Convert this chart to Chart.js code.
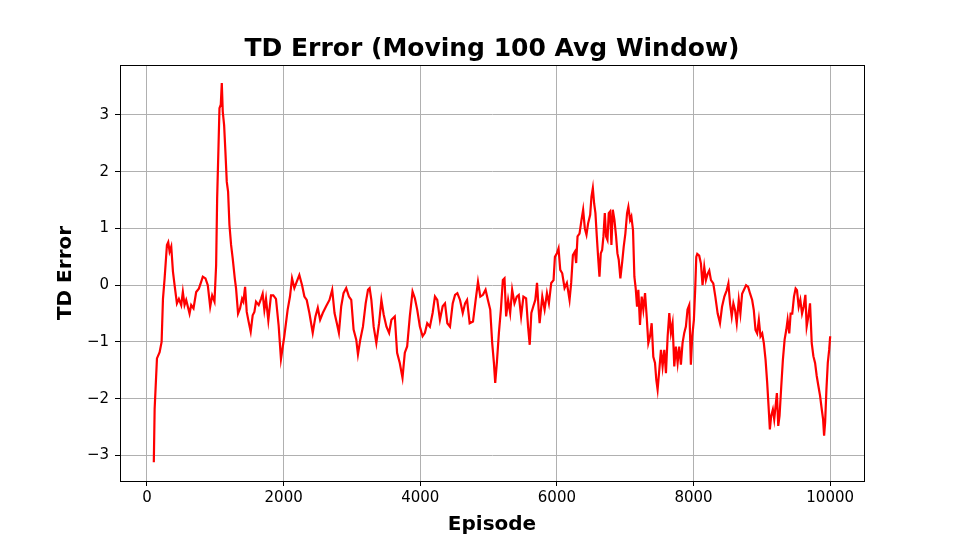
<!DOCTYPE html>
<html>
<head>
<meta charset="utf-8">
<script src="https://cdn.jsdelivr.net/npm/chart.js@4.4.1/dist/chart.umd.min.js"></script>
<style>
  html, body { margin: 0; padding: 0; background: #fff; }
  canvas { display: block; }
</style>
</head>
<body>
<canvas id="chart" width="960" height="540"></canvas>
<script>
// moving-average TD error
const episodes = [
  100, 112, 146, 185, 214, 234, 258, 292, 311, 331, 355, 380, 404, 438, 467, 501, 525, 550, 574, 623,
  647, 681, 720, 759, 793, 817, 856, 890, 925, 954, 988, 1012, 1027, 1046, 1061, 1080, 1095, 1109, 1129, 1148,
  1168, 1187, 1207, 1231, 1255, 1285, 1304, 1333, 1362, 1392, 1411, 1436, 1460, 1489, 1518, 1547, 1572, 1596, 1635, 1669,
  1693, 1718, 1742, 1776, 1815, 1849, 1888, 1927, 1961, 2010, 2059, 2093, 2123, 2157, 2191, 2230, 2270, 2304, 2338, 2377,
  2426, 2466, 2500, 2534, 2573, 2622, 2671, 2711, 2745, 2779, 2809, 2843, 2877, 2916, 2956, 2990, 3024, 3063, 3088, 3122,
  3161, 3201, 3235, 3259, 3284, 3318, 3357, 3397, 3431, 3465, 3505, 3544, 3578, 3627, 3661, 3700, 3740, 3774, 3808, 3847,
  3887, 3921, 3955, 3994, 4034, 4068, 4102, 4141, 4181, 4215, 4249, 4288, 4328, 4362, 4396, 4435, 4475, 4509, 4543, 4582,
  4622, 4656, 4685, 4723, 4772, 4811, 4845, 4879, 4918, 4956, 4990, 5024, 5053, 5078, 5097, 5121, 5151, 5180, 5209, 5233,
  5257, 5286, 5316, 5345, 5379, 5413, 5442, 5476, 5510, 5549, 5578, 5602, 5626, 5655, 5684, 5709, 5733, 5747, 5786, 5820,
  5854, 5883, 5917, 5951, 5971, 6000, 6024, 6049, 6078, 6112, 6146, 6185, 6209, 6234, 6263, 6282, 6302, 6331, 6360, 6384,
  6409, 6433, 6457, 6487, 6506, 6526, 6545, 6564, 6584, 6603, 6623, 6642, 6662, 6681, 6701, 6720, 6740, 6759, 6779, 6798,
  6818, 6842, 6866, 6886, 6905, 6929, 6954, 6978, 7002, 7027, 7046, 7071, 7090, 7114, 7134, 7153, 7173, 7192, 7216, 7241,
  7265, 7290, 7314, 7338, 7363, 7387, 7411, 7436, 7455, 7474, 7499, 7523, 7547, 7572, 7596, 7621, 7645, 7669, 7693, 7718,
  7742, 7767, 7791, 7815, 7839, 7864, 7888, 7912, 7937, 7961, 7981, 8005, 8024, 8040, 8054, 8083, 8108, 8132, 8157, 8181,
  8206, 8230, 8255, 8289, 8319, 8353, 8387, 8417, 8451, 8485, 8510, 8534, 8559, 8583, 8608, 8632, 8662, 8686, 8711, 8735,
  8769, 8799, 8828, 8858, 8882, 8907, 8931, 8956, 8980, 9005, 9029, 9054, 9078, 9098, 9117, 9137, 9161, 9181, 9201, 9220,
  9240, 9259, 9284, 9308, 9333, 9357, 9377, 9401, 9421, 9445, 9470, 9494, 9514, 9539, 9563, 9588, 9612, 9637, 9656, 9681,
  9705, 9730, 9754, 9779, 9803, 9828, 9852, 9877, 9896, 9911, 9926, 9945, 9965, 9985, 10000
];

const tdError = [
  -3.12, -2.18, -1.29, -1.18, -1.0, -0.24, 0.12, 0.71, 0.76, 0.59, 0.68, 0.24, 0, -0.32, -0.24, -0.35, -0.12, -0.35, -0.26, -0.5,
  -0.35, -0.41, -0.12, -0.06, 0.06, 0.15, 0.12, 0, -0.38, -0.18, -0.29, 0.35, 1.53, 2.41, 3.12, 3.18, 3.56, 3.06, 2.82, 2.35,
  1.82, 1.65, 1.06, 0.71, 0.47, 0.12, -0.06, -0.5, -0.41, -0.24, -0.29, -0.03, -0.47, -0.65, -0.82, -0.53, -0.47, -0.29, -0.35, -0.24,
  -0.15, -0.44, -0.24, -0.62, -0.18, -0.18, -0.24, -0.71, -1.3, -0.9, -0.43, -0.2, 0.12, -0.05, 0.06, 0.18, 0, -0.2, -0.26, -0.49,
  -0.84, -0.55, -0.4, -0.61, -0.49, -0.37, -0.26, -0.08, -0.49, -0.67, -0.84, -0.37, -0.14, -0.05, -0.2, -0.26, -0.78, -0.96, -1.22, -0.96,
  -0.73, -0.32, -0.08, -0.05, -0.26, -0.73, -1.02, -0.67, -0.26, -0.52, -0.73, -0.84, -0.61, -0.55, -1.19, -1.37, -1.63, -1.19, -1.08, -0.55,
  -0.11, -0.23, -0.43, -0.73, -0.9, -0.84, -0.67, -0.73, -0.49, -0.2, -0.26, -0.61, -0.37, -0.32, -0.67, -0.73, -0.32, -0.17, -0.14, -0.26,
  -0.49, -0.32, -0.26, -0.67, -0.64, -0.26, 0.06, -0.2, -0.17, -0.08, -0.26, -0.43, -1.02, -1.37, -1.72, -1.37, -0.84, -0.43, 0.09, 0.12,
  -0.55, -0.26, -0.49, -0.08, -0.32, -0.2, -0.17, -0.55, -0.2, -0.23, -0.73, -1.05, -0.49, -0.37, -0.26, 0.04, -0.43, -0.67, -0.2, -0.43,
  -0.14, -0.32, 0.04, 0.09, 0.5, 0.56, 0.65, 0.27, 0.21, -0.05, 0.04, -0.26, 0.04, 0.53, 0.59, 0.39, 0.86, 0.91, 1.15, 1.33,
  1.0, 0.89, 1.09, 1.24, 1.56, 1.71, 1.44, 1.27, 0.86, 0.5, 0.15, 0.56, 0.62, 0.86, 1.27, 0.86, 0.8, 1.27, 1.3, 0.71,
  1.33, 1.15, 0.86, 0.56, 0.45, 0.12, 0.39, 0.68, 0.91, 1.27, 1.38, 1.15, 1.21, 0.97, 0.15, -0.05, -0.38, -0.08, -0.7, -0.2,
  -0.43, -0.14, -0.55, -1.02, -0.9, -0.67, -1.26, -1.37, -1.67, -1.84, -1.49, -1.14, -1.43, -1.14, -1.55, -0.9, -0.49, -0.84, -0.67, -1.43,
  -1.08, -1.37, -1.08, -1.4, -1.02, -0.84, -0.73, -0.43, -0.35, -1.4, -0.9, -0.61, -0.08, 0.5, 0.55, 0.52, 0.38, 0, 0.32, 0.09,
  0.2, 0.26, 0.09, 0.03, -0.2, -0.5, -0.67, -0.38, -0.2, -0.09, 0.03, -0.32, -0.55, -0.32, -0.44, -0.67, -0.26, -0.5, -0.15, -0.09,
  0, -0.03, -0.15, -0.26, -0.44, -0.79, -0.85, -0.61, -0.9, -0.85, -1.02, -1.31, -1.72, -2.13, -2.54, -2.3, -2.19, -2.36, -2.13, -1.9,
  -2.48, -2.3, -1.78, -1.31, -0.96, -0.79, -0.61, -0.85, -0.5, -0.5, -0.2, -0.06, -0.09, -0.38, -0.26, -0.5, -0.38, -0.17, -0.73, -0.55,
  -0.32, -1.02, -1.25, -1.37, -1.6, -1.78, -1.95, -2.19, -2.36, -2.65, -2.42, -1.84, -1.37, -1.14, -0.9
];

const xTicks = [0, 2000, 4000, 6000, 8000, 10000];
const yTicks = [-3, -2, -1, 0, 1, 2, 3];

const font = 'DejaVu Sans';
const minus = v => (v < 0 ? '\u2212' + Math.abs(v) : String(v));

// matplotlib draws a full box round the axes
const frame = {
  id: 'frame',
  afterDraw(chart) {
    const { ctx, chartArea: a } = chart;
    ctx.save();
    ctx.strokeStyle = '#000';
    ctx.lineWidth = 1;
    ctx.strokeRect(a.left + 0.5, a.top + 0.5, a.right - a.left, a.bottom - a.top);
    ctx.restore();
  }
};

new Chart(document.getElementById('chart'), {
  type: 'line',
  data: {
    datasets: [{
      data: episodes.map((e, i) => ({ x: e, y: tdError[i] })),
      borderColor: '#ff0000',
      borderWidth: 2.2,
      pointRadius: 0,
      tension: 0,
      fill: false
    }]
  },
  options: {
    responsive: false,
    animation: false,
    devicePixelRatio: 1,
    layout: { padding: { left: 0, right: 96, top: 0, bottom: 0 } },
    plugins: {
      legend: { display: false },
      tooltip: { enabled: false },
      title: {
        display: true,
        fullSize: false,
        text: 'TD Error (Moving 100 Avg Window)',
        color: '#000',
        font: { family: font, size: 25, weight: 'bold' },
        padding: { top: 34, bottom: 1 }
      }
    },
    scales: {
      x: {
        type: 'linear',
        min: -395,
        max: 10495,
        afterFit: s => { s.height = 59; },
        afterBuildTicks: s => { s.ticks = xTicks.map(v => ({ value: v })); },
        ticks: { color: '#000', font: { family: font, size: 15 }, padding: 3, maxRotation: 0, callback: v => String(v) },
        grid: { color: '#b0b0b0', lineWidth: 1, tickColor: '#000', tickLength: 5 },
        border: { color: '#000' },
        title: { display: true, text: 'Episode', color: '#000', font: { family: font, size: 20, weight: 'bold' }, padding: { top: 0, bottom: 3 } }
      },
      y: {
        type: 'linear',
        min: -3.45,
        max: 3.88,
        afterFit: s => { s.width = 120; },
        afterBuildTicks: s => { s.ticks = yTicks.map(v => ({ value: v })); },
        ticks: { color: '#000', font: { family: font, size: 15 }, padding: 6, callback: v => minus(v) },
        grid: { color: '#b0b0b0', lineWidth: 1, tickColor: '#000', tickLength: 5 },
        border: { color: '#000' },
        title: { display: true, text: 'TD Error', color: '#000', font: { family: font, size: 20, weight: 'bold' }, padding: { top: 54, bottom: 0 } }
      }
    }
  },
  plugins: [frame]
});
</script>
</body>
</html>
